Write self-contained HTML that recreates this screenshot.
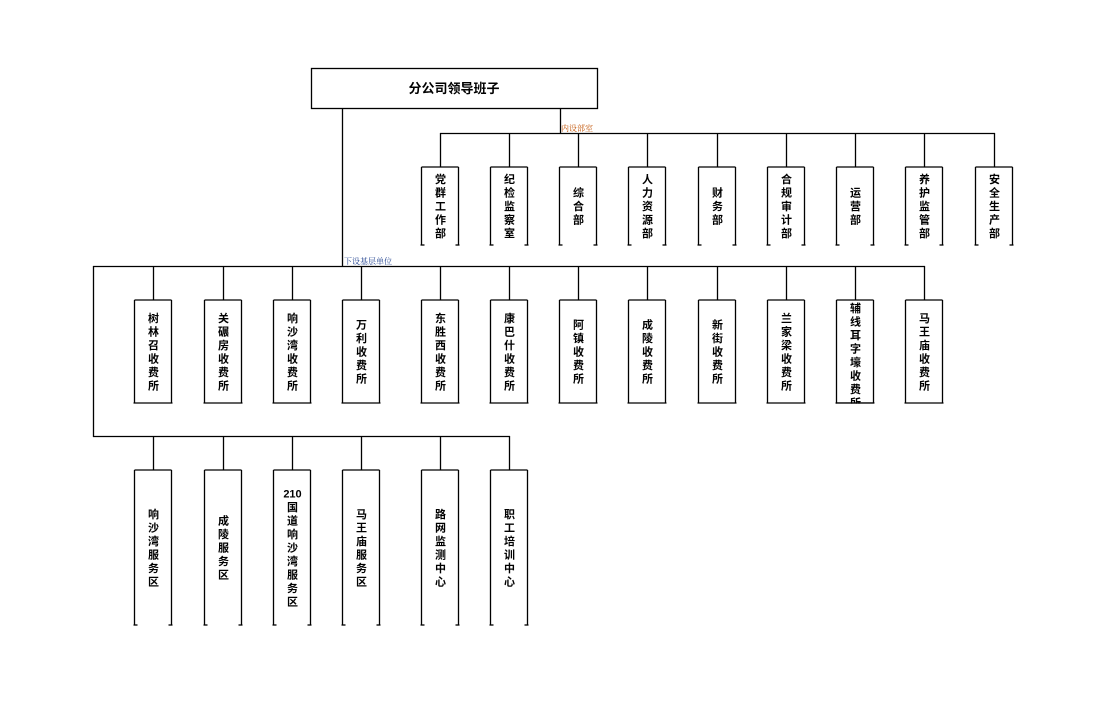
<!DOCTYPE html>
<html><head><meta charset="utf-8"><style>
html,body{margin:0;padding:0;background:#fff;}
body{width:1115px;height:717px;position:relative;overflow:hidden;}
</style></head><body>
<svg width="1115" height="717" xmlns="http://www.w3.org/2000/svg" style="position:absolute;left:0;top:0" font-family="Liberation Sans, Noto Sans CJK SC, sans-serif">
<rect x="0" y="0" width="1115" height="717" fill="#fff"/>
<g stroke="#000" stroke-width="1.3" fill="none">
<rect x="311.5" y="68.5" width="286" height="40"/>
<line x1="342.5" y1="108" x2="342.5" y2="266"/>
<line x1="560.5" y1="108" x2="560.5" y2="133"/>
<line x1="440" y1="133.5" x2="995" y2="133.5"/>
<line x1="93" y1="266.5" x2="925" y2="266.5"/>
<line x1="93.5" y1="266" x2="93.5" y2="437"/>
<line x1="93" y1="436.5" x2="510" y2="436.5"/>
</g>
<text x="561" y="131" font-size="8" fill="#c05000" font-family="Liberation Serif, Noto Serif CJK SC, serif">内设部室</text>
<text x="344" y="264" font-size="8" fill="#1a3c8c" font-family="Liberation Serif, Noto Serif CJK SC, serif">下设基层单位</text>
<text x="454" y="93" font-size="13" font-weight="bold" text-anchor="middle" font-family="Liberation Sans, Noto Sans CJK SC, sans-serif">分公司领导班子</text>
<g id="boxes"></g>
</svg>
<script>
var svg=document.querySelector('svg');
function add(tag,attrs,txt){var e=document.createElementNS('http://www.w3.org/2000/svg',tag);for(var k in attrs)e.setAttribute(k,attrs[k]);if(txt!==undefined)e.textContent=txt;svg.appendChild(e);return e;}
function row(centers,labels,lineY,top,h,fullBottom,topAlign){
 for(var i=0;i<centers.length;i++){
  var c=centers[i],l=c-18.5,r=c+18.5;
  add('line',{x1:c+0.5,y1:lineY,x2:c+0.5,y2:top,stroke:'#000','stroke-width':1.3});
  add('line',{x1:l,y1:top,x2:r,y2:top,stroke:'#000','stroke-width':1.3});
  add('line',{x1:l,y1:top,x2:l,y2:top+h,stroke:'#000','stroke-width':1.3});
  add('line',{x1:r,y1:top,x2:r,y2:top+h,stroke:'#000','stroke-width':1.3});
  if(fullBottom){add('line',{x1:l-1,y1:top+h,x2:r+1,y2:top+h,stroke:'#000','stroke-width':1.3});}
  else{add('line',{x1:l-1,y1:top+h,x2:l+3,y2:top+h,stroke:'#000','stroke-width':1.3});add('line',{x1:r-3,y1:top+h,x2:r+1,y2:top+h,stroke:'#000','stroke-width':1.3});}
  var chars=labels[i],lh=13.5,n=chars.length;
  var startY=top+h/2-(n*lh)/2+lh*0.8;
  if(topAlign&&topAlign[i])startY=top+12;
  for(var j=0;j<n;j++){
   var y=startY+j*lh; if(y>top+h+4)break;
   add('text',{x:c+0.5,y:y,'font-size':11,'font-weight':'bold','text-anchor':'middle','font-family':'Liberation Sans, Noto Sans CJK SC, sans-serif'},chars[j]);
  }
 }
}
// clip region for row 2 overflow
row([440,509,578,647,717,786,855,924,994],
 [['党','群','工','作','部'],['纪','检','监','察','室'],['综','合','部'],['人','力','资','源','部'],['财','务','部'],['合','规','审','计','部'],['运','营','部'],['养','护','监','管','部'],['安','全','生','产','部']],
 133,167,78,false);
row([153,223,292,361,440,509,578,647,717,786,855,924],
 [['树','林','召','收','费','所'],['关','碾','房','收','费','所'],['响','沙','湾','收','费','所'],['万','利','收','费','所'],['东','胜','西','收','费','所'],['康','巴','什','收','费','所'],['阿','镇','收','费','所'],['成','陵','收','费','所'],['新','街','收','费','所'],['兰','家','梁','收','费','所'],['辅','线','耳','字','壕','收','费','所'],['马','王','庙','收','费','所']],
 266,300,103,true,[0,0,0,0,0,0,0,0,0,0,1,0]);
row([153,223,292,361,440,509],
 [['响','沙','湾','服','务','区'],['成','陵','服','务','区'],['210','国','道','响','沙','湾','服','务','区'],['马','王','庙','服','务','区'],['路','网','监','测','中','心'],['职','工','培','训','中','心']],
 436,470,155,false);
// cover overflow below box with 辅线 (white mask)
var m=add('rect',{x:837,y:403.7,width:38,height:10,fill:'#fff'});
add('line',{x1:836,y1:403,x2:874,y2:403,stroke:'#000','stroke-width':1.3});
</script>
</body></html>
